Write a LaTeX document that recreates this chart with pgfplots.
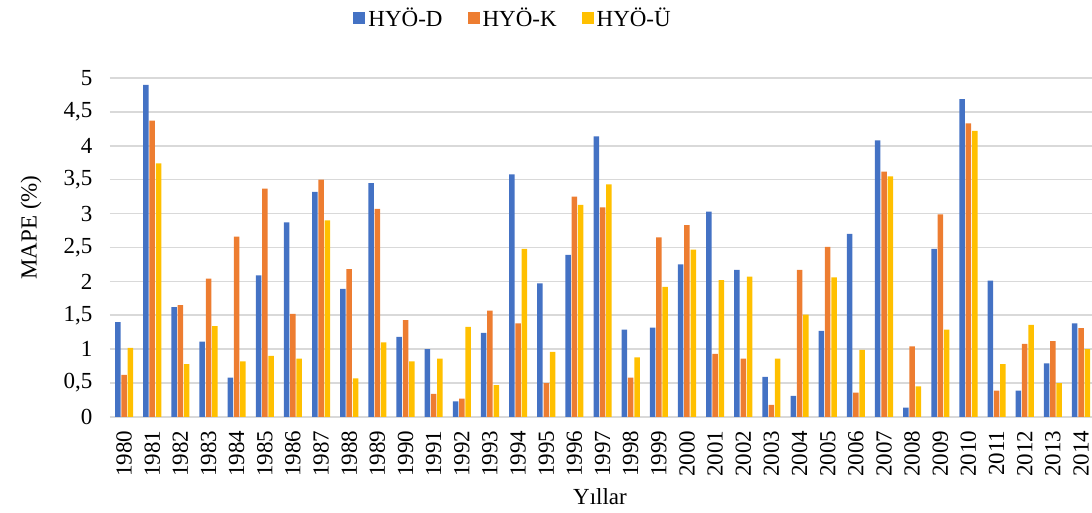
\documentclass[border=0pt]{standalone}
\usepackage{fontspec}
\setmainfont{Liberation Serif}
\usepackage{pgfplots}
\usepackage{pgfplotstable}
\pgfplotsset{compat=1.18}
\definecolor{cD}{HTML}{4472C4}
\definecolor{cK}{HTML}{ED7D31}
\definecolor{cU}{HTML}{FFC000}
\definecolor{gridc}{HTML}{D9D9D9}

\pgfplotstableread{
x D K U
0 1.40 0.62 1.02
1 4.90 4.37 3.74
2 1.62 1.65 0.78
3 1.11 2.04 1.34
4 0.58 2.66 0.82
5 2.09 3.37 0.90
6 2.87 1.52 0.86
7 3.32 3.50 2.90
8 1.89 2.18 0.57
9 3.45 3.07 1.10
10 1.18 1.43 0.82
11 1.00 0.34 0.86
12 0.23 0.27 1.33
13 1.24 1.57 0.47
14 3.58 1.38 2.48
15 1.97 0.50 0.96
16 2.39 3.25 3.13
17 4.14 3.09 3.43
18 1.29 0.58 0.88
19 1.32 2.65 1.92
20 2.25 2.83 2.47
21 3.03 0.93 2.02
22 2.17 0.86 2.07
23 0.59 0.18 0.86
24 0.31 2.17 1.51
25 1.27 2.51 2.06
26 2.70 0.36 0.99
27 4.08 3.62 3.55
28 0.14 1.04 0.45
29 2.48 2.99 1.29
30 4.69 4.33 4.22
31 2.01 0.39 0.78
32 0.39 1.08 1.36
33 0.79 1.12 0.50
34 1.38 1.31 1.00
}\datatable

\pgfplotsset{sq/.style={legend image code/.code={\fill[##1,draw=none] (0pt,-6pt) rectangle (12pt,6pt);}}}

\begin{document}
\begin{tikzpicture}[x=1pt,y=1pt]
\useasboundingbox (0,0) rectangle (1092,513);
\begin{axis}[
  at={(110pt,96pt)}, anchor=south west,
  width=982pt, height=339pt, scale only axis,
  font=\fontsize{23}{27}\selectfont,
  xmin=-0.5, xmax=34.39, ymin=0, ymax=5,
  ybar=0.8pt, bar width=5.5pt,
  ytick={0,0.5,1,1.5,2,2.5,3,3.5,4,4.5,5},
  /pgf/number format/assume math mode=true,
  /pgf/number format/use comma,
  xtick={0,...,34},
  xticklabels={1980,1981,1982,1983,1984,1985,1986,1987,1988,1989,1990,1991,1992,1993,1994,1995,1996,1997,1998,1999,2000,2001,2002,2003,2004,2005,2006,2007,2008,2009,2010,2011,2012,2013,2014},
  xticklabel style={rotate=90, anchor=east},
  xticklabel shift=10pt,
  yticklabel style={anchor=east},
  yticklabel shift=14pt,
  major tick length=0pt,
  axis line style={draw=none},
  ymajorgrids, grid style={gridc, line width=1.6pt},
  ylabel={MAPE (\%)},
  ylabel style={at={(axis description cs:-0.0804,0.559)}, anchor=center},
  xlabel={Yıllar},
  xlabel style={at={(axis description cs:0.499,-0.236)}, anchor=center},
  legend columns=3,
  legend style={at={(0.411,1.177)}, anchor=center, draw=none, fill=none,
    /tikz/every even column/.append style={column sep=22pt},
    nodes={inner sep=3pt}},
]
\addplot[fill=cD, draw=none, sq] table[x=x, y=D] {\datatable};
\addplot[fill=cK, draw=none, sq] table[x=x, y=K] {\datatable};
\addplot[fill=cU, draw=none, sq] table[x=x, y=U] {\datatable};
\legend{HYÖ-D, HYÖ-K, HYÖ-Ü}
\end{axis}
\end{tikzpicture}
\end{document}
